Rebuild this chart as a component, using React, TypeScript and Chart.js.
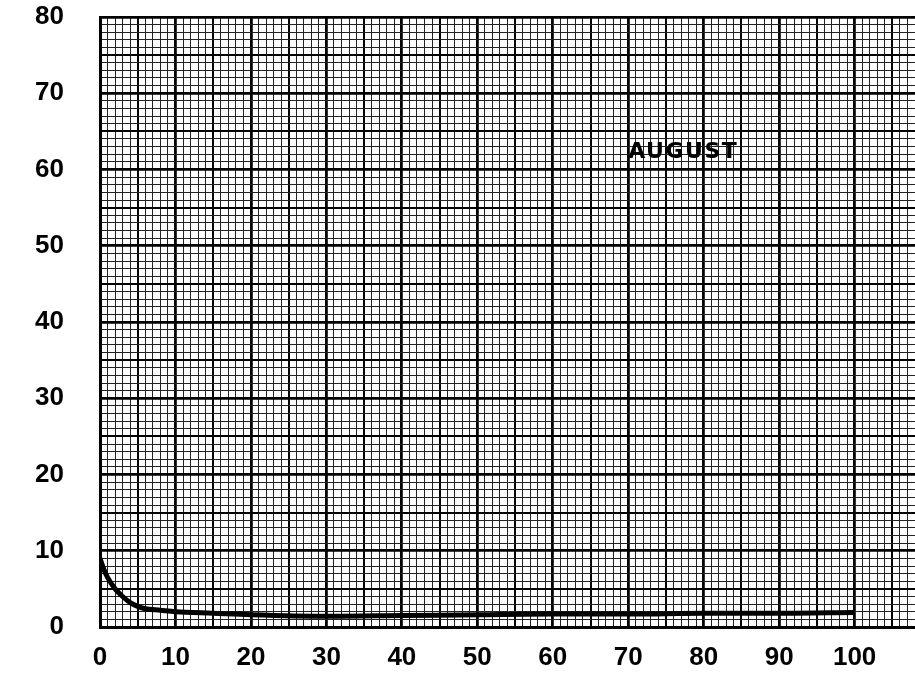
import React, { useEffect, useRef } from "react";
import { Chart, registerables } from "chart.js";

Chart.register(...registerables);

// Data (x: 0–100, y: value)
const xValues = [0, 0.5, 1, 2, 3, 4, 5, 6, 8, 10, 15, 20, 30, 40, 50, 60, 70, 80, 90, 100];
const yValues = [9.0, 7.6, 6.5, 5.0, 4.0, 3.2, 2.7, 2.4, 2.2, 2.0, 1.8, 1.6, 1.4, 1.5, 1.6, 1.7, 1.7, 1.8, 1.8, 1.9];
const xTickLabels = [0, 10, 20, 30, 40, 50, 60, 70, 80, 90, 100];
const yTickLabels = [0, 10, 20, 30, 40, 50, 60, 70, 80];
const seriesLabel = "AUGUST";

const FONT = "'Liberation Sans', Arial, Helvetica, sans-serif";

const gridColor = (v: number) => (v % 5 === 0 ? "#000" : "#222");
const gridWidth = (v: number) => (v % 10 === 0 ? 2.8 : v % 5 === 0 ? 2 : 1);

const labelPlugin = {
  id: "seriesLabel",
  afterDatasetsDraw(chart: any) {
    const { ctx, scales } = chart;
    const px = scales.x.getPixelForValue(70);
    const py = scales.y.getPixelForValue(62.3);
    ctx.save();
    ctx.font = `bold 22px 'DejaVu Sans', ${FONT}`;
    (ctx as any).letterSpacing = "1.5px";
    ctx.fillStyle = "#000";
    ctx.textAlign = "left";
    ctx.textBaseline = "middle";
    ctx.fillText(seriesLabel, px, py);
    ctx.restore();
  },
};

export default function App() {
  const ref = useRef<HTMLCanvasElement | null>(null);
  useEffect(() => {
    if (!ref.current) return;
    const chart = new Chart(ref.current, {
      type: "line",
      data: {
        datasets: [
          {
            label: seriesLabel,
            data: xValues.map((x, i) => ({ x, y: yValues[i] })),
            borderColor: "#000",
            borderWidth: 5,
            pointRadius: 0,
            cubicInterpolationMode: "monotone",
            fill: false,
          },
        ],
      },
      options: {
        animation: false,
        responsive: false,
        maintainAspectRatio: false,
        layout: { padding: { top: 17, right: 0, left: 0, bottom: 0 } },
        plugins: { legend: { display: false }, tooltip: { enabled: false } },
        scales: {
          x: {
            type: "linear",
            min: 0,
            max: 108,
            afterFit: (s: any) => {
              s.height = 62;
              s.paddingLeft = 0;
              s.paddingRight = 0;
            },
            ticks: {
              stepSize: 1,
              autoSkip: false,
              maxRotation: 0,
              padding: 15,
              color: "#000",
              font: { family: FONT, size: 26, weight: "bold" },
              callback: (v: any) => (xTickLabels.includes(Number(v)) ? String(v) : ""),
            },
            grid: {
              drawTicks: false,
              color: (c: any) => gridColor(c.tick ? c.tick.value : 0),
              lineWidth: (c: any) => gridWidth(c.tick ? c.tick.value : 0),
            },
            border: { display: true, color: "#000", width: 3 },
          },
          y: {
            type: "linear",
            min: 0,
            max: 80,
            afterFit: (s: any) => {
              s.width = 100;
              s.paddingTop = 0;
              s.paddingBottom = 0;
            },
            ticks: {
              stepSize: 1,
              autoSkip: false,
              padding: 36,
              color: "#000",
              font: { family: FONT, size: 26, weight: "bold" },
              callback: (v: any) => (yTickLabels.includes(Number(v)) ? String(v) : ""),
            },
            grid: {
              drawTicks: false,
              color: (c: any) => gridColor(c.tick ? c.tick.value : 0),
              lineWidth: (c: any) => gridWidth(c.tick ? c.tick.value : 0),
            },
            border: { display: true, color: "#000", width: 3 },
          },
        },
      },
      plugins: [labelPlugin],
    } as any);
    return () => chart.destroy();
  }, []);

  return (
    <div style={{ position: "fixed", left: 0, top: 0, width: 915, height: 689, background: "#fff" }}>
      <canvas ref={ref} width={915} height={689} style={{ width: 915, height: 689 }} />
    </div>
  );
}
